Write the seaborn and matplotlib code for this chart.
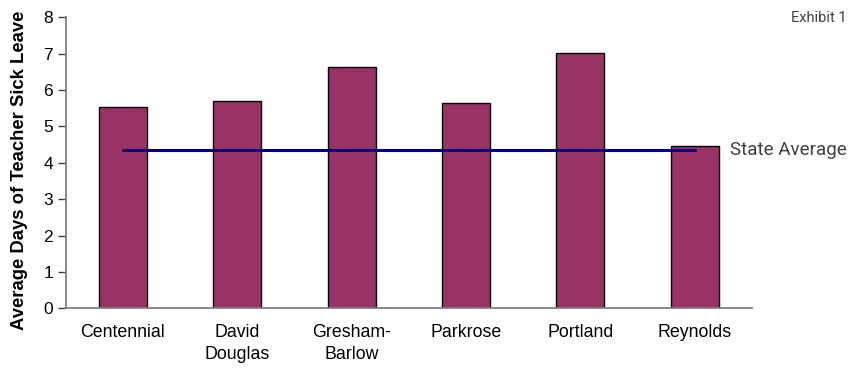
import matplotlib
matplotlib.use("Agg")
import matplotlib.pyplot as plt
import seaborn as sns
import pandas as pd
import numpy as np

schools = ["Centennial", "David\nDouglas", "Gresham-\nBarlow", "Parkrose", "Portland", "Reynolds"]
sick_days = [5.53, 5.69, 6.64, 5.65, 7.01, 4.47]
state_average = 4.34
y_ticks = [0, 1, 2, 3, 4, 5, 6, 7, 8]

sns.set_style("white")
plt.rcParams['font.family'] = ['Liberation Sans', 'DejaVu Sans']
plt.rcParams['text.color'] = 'black'
plt.rcParams['axes.labelcolor'] = 'black'
plt.rcParams['xtick.color'] = 'black'
plt.rcParams['ytick.color'] = 'black'

df = pd.DataFrame({"school": schools, "days": sick_days})

fig = plt.figure(figsize=(8.6, 3.69), dpi=100)
ax = fig.add_axes([0.0764, 0.1645, 0.798, 0.7885])

sns.barplot(data=df, x="school", y="days", ax=ax, color="#993366",
            saturation=1, width=0.42, edgecolor="black", linewidth=1.0)

n = len(schools)
ax.plot([0, n - 1], [state_average, state_average], color="#000080", lw=2.2, zorder=5)
ax.text(n - 1 + 0.31, state_average, "State Average", family="Roboto",
        fontsize=13.5, color="#404040", va="center", ha="left", clip_on=False)

ax.set_xlim(-0.5, n - 0.5)
ax.set_ylim(0, 8)
ax.set_yticks(y_ticks)
ax.set_yticklabels([str(t) for t in y_ticks], fontsize=12.5)

# boundary ticks (major, no labels) and centred labels (minor, no tick)
ax.set_xticks(np.arange(-0.5, n, 1.0))
ax.set_xticklabels([""] * (n + 1))
ax.set_xticks(np.arange(n), minor=True)
ax.set_xticklabels(schools, minor=True, fontsize=12.8, linespacing=1.42)
ax.tick_params(axis="x", which="major", direction="inout", length=11, width=1, color="#404040")
ax.tick_params(axis="x", which="minor", length=0, pad=11)
ax.tick_params(axis="y", direction="out", length=6, width=1, color="#404040", pad=3, left=True)

for s in ["top", "right"]:
    ax.spines[s].set_visible(False)
for s in ["left", "bottom"]:
    ax.spines[s].set_color("#808080")
    ax.spines[s].set_linewidth(1.3)

ax.set_xlabel("")
ax.set_ylabel("Average Days of Teacher Sick Leave", fontsize=13.3, fontweight="bold",
              color="black")
ax.yaxis.set_label_coords(-0.055, 0.475)

fig.text(0.985, 0.95, "Exhibit 1", family="Roboto", fontsize=10.5, color="#404040",
         ha="right", va="center")

fig.savefig("out.png", dpi=100)
